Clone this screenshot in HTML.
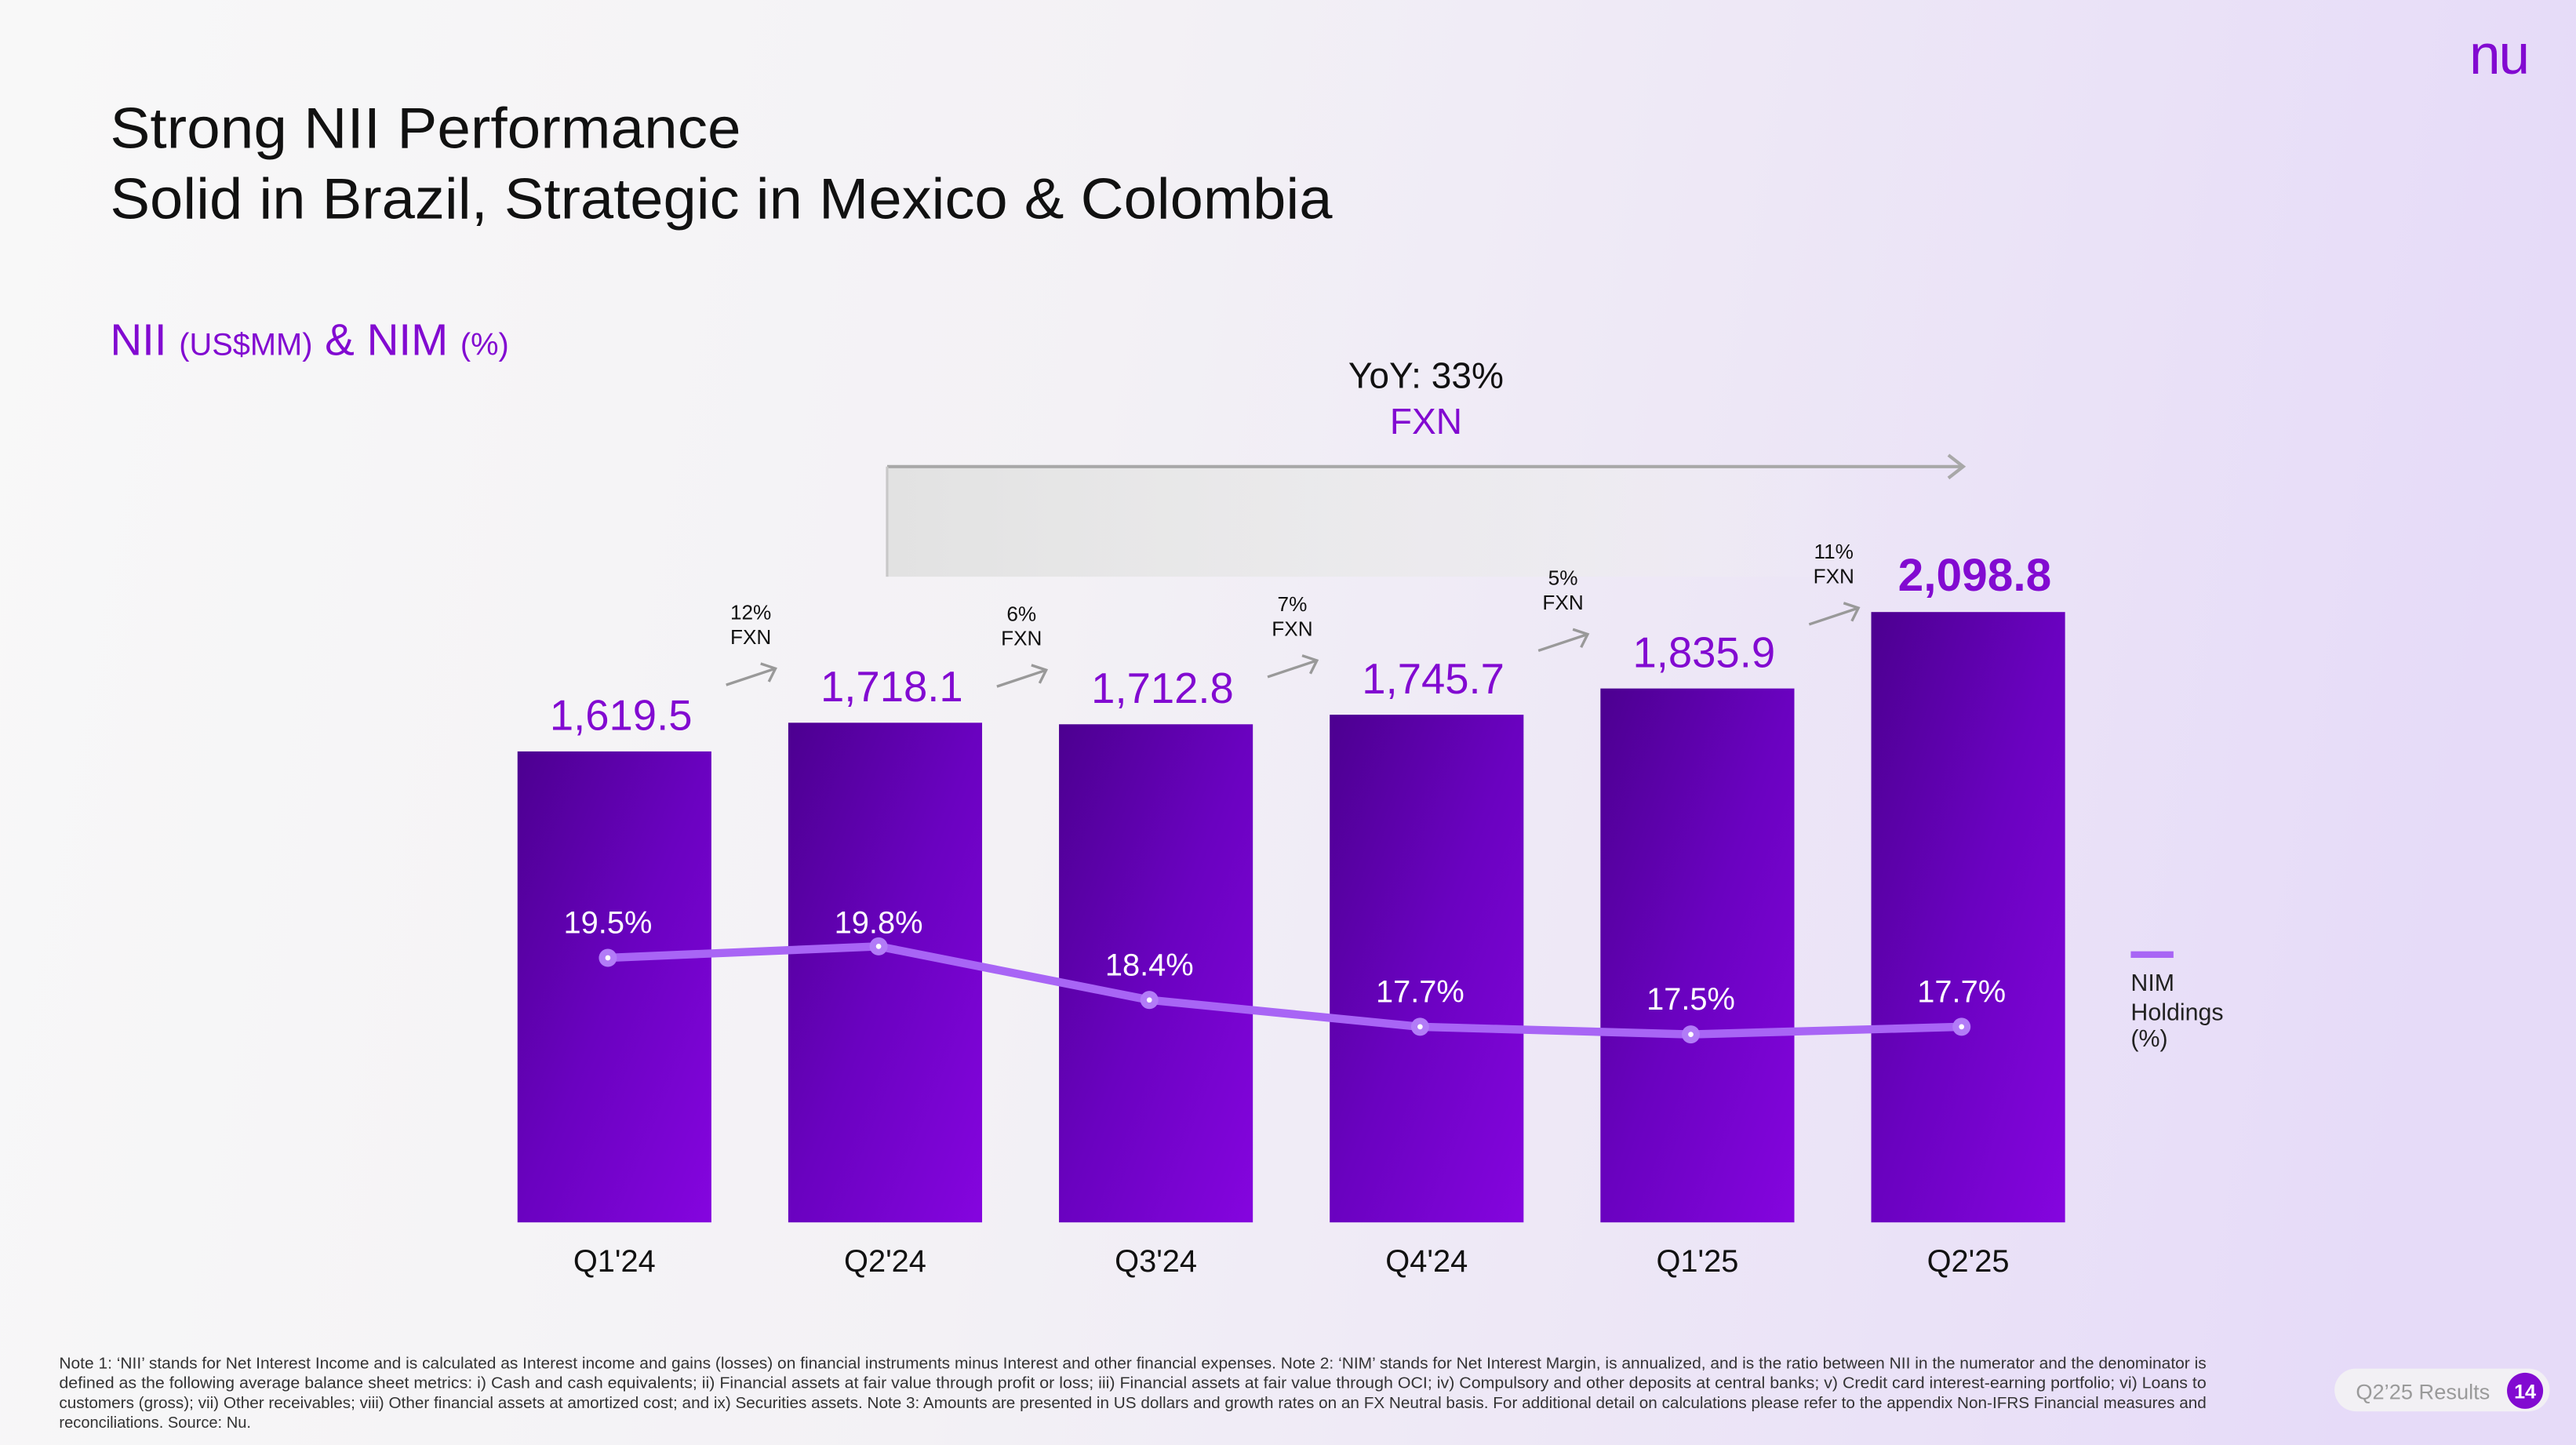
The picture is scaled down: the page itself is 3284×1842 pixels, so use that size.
<!DOCTYPE html>
<html><head><meta charset="utf-8">
<style>
html,body{margin:0;padding:0;width:3284px;height:1842px;overflow:hidden;}
svg{display:block;font-family:"Liberation Sans",sans-serif;}
</style></head>
<body>
<svg id="chart" width="3284" height="1842" viewBox="0 0 1568 879.5" xmlns="http://www.w3.org/2000/svg">
<defs>
<linearGradient id="bg" x1="0" y1="0" x2="1" y2="0.1">
<stop offset="0" stop-color="#f8f8f8"/><stop offset="0.45" stop-color="#f3f1f5"/><stop offset="1" stop-color="#e6dbf8"/>
</linearGradient>
<linearGradient id="barg" x1="0" y1="0" x2="1" y2="1">
<stop offset="0" stop-color="#4c0090"/><stop offset="0.5" stop-color="#6a02c0"/><stop offset="1" stop-color="#8505df"/>
</linearGradient>
<linearGradient id="brk" x1="0" y1="0" x2="1" y2="0">
<stop offset="0" stop-color="#e2e2e2"/><stop offset="0.7" stop-color="#ececec" stop-opacity="0.6"/><stop offset="1" stop-color="#f2f2f2" stop-opacity="0"/>
</linearGradient>
</defs>
<rect x="0" y="0" width="1568" height="880" fill="url(#bg)"/>
<text x="1521" y="45" text-anchor="middle" font-size="34" fill="#820ad1" letter-spacing="-1">nu</text>
<text x="67" y="90" font-size="35" fill="#111" textLength="384" lengthAdjust="spacingAndGlyphs">Strong NII Performance</text>
<text x="67" y="133" font-size="35" fill="#111" textLength="744" lengthAdjust="spacingAndGlyphs">Solid in Brazil, Strategic in Mexico &amp; Colombia</text>
<text x="67" y="216" font-size="27" fill="#820ad1">NII <tspan font-size="19">(US$MM)</tspan> &amp; NIM <tspan font-size="19">(%)</tspan></text>
<text x="868" y="236" text-anchor="middle" font-size="22" fill="#111">YoY: 33%</text>
<text x="868" y="264" text-anchor="middle" font-size="22" fill="#820ad1">FXN</text>
<g>
<rect x="540" y="285" width="600" height="66" fill="url(#brk)"/>
<line x1="540" y1="284" x2="1195" y2="284" stroke="#a8a8a8" stroke-width="2"/>
<line x1="540" y1="284" x2="540" y2="351" stroke="#c8c8c8" stroke-width="1.5"/>
<polyline points="1186,277 1195,284 1186,291" fill="none" stroke="#a8a8a8" stroke-width="2"/>
</g>
<g id="bars"></g>
<g id="growth"></g>
<g id="line"></g>
<g id="cats"></g>
<g>
<rect x="1297" y="579" width="26" height="4" fill="#a865f5"/>
<text x="1297" y="603" font-size="14.5" fill="#222">NIM</text>
<text x="1297" y="621" font-size="14.5" fill="#222">Holdings</text>
<text x="1297" y="637" font-size="14.5" fill="#222">(%)</text>
</g>
<g font-size="9.6" fill="#333">
<text x="36" y="833" textLength="1307" lengthAdjust="spacingAndGlyphs">Note 1: ‘NII’ stands for Net Interest Income and is calculated as Interest income and gains (losses) on financial instruments minus Interest and other financial expenses. Note 2: ‘NIM’ stands for Net Interest Margin, is annualized, and is the ratio between NII in the numerator and the denominator is</text>
<text x="36" y="845" textLength="1307" lengthAdjust="spacingAndGlyphs">defined as the following average balance sheet metrics: i) Cash and cash equivalents; ii) Financial assets at fair value through profit or loss; iii) Financial assets at fair value through OCI; iv) Compulsory and other deposits at central banks; v) Credit card interest-earning portfolio; vi) Loans to</text>
<text x="36" y="857" textLength="1307" lengthAdjust="spacingAndGlyphs">customers (gross); vii) Other receivables; viii) Other financial assets at amortized cost; and ix) Securities assets. Note 3: Amounts are presented in US dollars and growth rates on an FX Neutral basis. For additional detail on calculations please refer to the appendix Non-IFRS Financial measures and</text>
<text x="36" y="869">reconciliations. Source: Nu.</text>
</g>
<g>
<rect x="1421" y="833" width="131" height="26" rx="13" fill="#f2f0f4"/>
<text x="1434" y="851.5" font-size="13" fill="#9a9a9a">Q2’25 Results</text>
<circle cx="1537" cy="846.5" r="11" fill="#820ad1"/>
<text x="1537" y="851" text-anchor="middle" font-size="12" font-weight="bold" fill="#fff">14</text>
</g>
<script>
const categories = ["Q1'24","Q2'24","Q3'24","Q4'24","Q1'25","Q2'25"];
const niiValues = [1619.5, 1718.1, 1712.8, 1745.7, 1835.9, 2098.8];
const niiLabels = ["1,619.5","1,718.1","1,712.8","1,745.7","1,835.9","2,098.8"];
const nimValues = [19.5, 19.8, 18.4, 17.7, 17.5, 17.7];
const nimLabels = ["19.5%","19.8%","18.4%","17.7%","17.5%","17.7%"];
const growthLabels = ["12%","6%","7%","5%","11%"];

const NS = "http://www.w3.org/2000/svg";
const barW = 118, baseY = 744;
function xBand(i){ return 315 + i * 164.8; }
function yNii(v){ return baseY - v * 0.1770; }
function yNim(v){ return 583 + (19.5 - v) * 23.3; }
function mk(tag, attrs, parent){ const e = document.createElementNS(NS, tag); for (const k in attrs) e.setAttribute(k, attrs[k]); parent.appendChild(e); return e; }

const gb = document.getElementById('bars');
const gg = document.getElementById('growth');
const gl = document.getElementById('line');
const gc = document.getElementById('cats');
const last = niiValues.length - 1;
niiValues.forEach((v, i) => {
  const x = xBand(i), y = yNii(v);
  const r = mk('rect', {x: x, y: y, width: barW, height: baseY - y, fill: 'url(#barg)'}, gb);
  
  
  const t = mk('text', {x: x + barW/2 + 4, y: y - 13, 'text-anchor': 'middle', 'font-size': i === last ? 28 : 26, 'font-weight': i === last ? 'bold' : 'normal', fill: '#820ad1'}, gb);
  t.textContent = niiLabels[i];
  
  
  const c = mk('text', {x: x + barW/2, y: 774, 'text-anchor': 'middle', 'font-size': 19, fill: '#111'}, gc);
  c.textContent = categories[i];
  
  
});
growthLabels.forEach((g, i) => {
  const yNext = yNii(niiValues[i+1]);
  const yCur = yNii(niiValues[i]);
  const cx = xBand(i) + barW + 24;
  const ay = Math.max(yNext - 28, yCur - 52) + (i === growthLabels.length - 1 ? 8 : 0);
  const grp = mk('g', {}, gg);
  
  
  const t1 = mk('text', {x: cx, y: ay - 35, 'text-anchor': 'middle', 'font-size': 12.5, fill: '#111'}, grp); t1.textContent = g;
  const t2 = mk('text', {x: cx, y: ay - 20, 'text-anchor': 'middle', 'font-size': 12.5, fill: '#111'}, grp); t2.textContent = 'FXN';
  mk('line', {x1: cx - 15, y1: ay + 5, x2: cx + 15, y2: ay - 5, stroke: '#999', 'stroke-width': 1.6}, grp);
  mk('polyline', {points: (cx+6)+','+(ay-8)+' '+(cx+15)+','+(ay-5)+' '+(cx+11)+','+(ay+3), fill: 'none', stroke: '#999', 'stroke-width': 1.6}, grp);
});
const pts = nimValues.map((v, i) => [xBand(i) + barW/2 - 4, yNim(v)]);
const pl = mk('polyline', {points: pts.map(p => p.join(',')).join(' '), fill: 'none', stroke: '#a865f5', 'stroke-width': 5, 'stroke-linejoin': 'round'}, gl);


pts.forEach((p, i) => {
  const c = mk('circle', {cx: p[0], cy: p[1], r: 5.5, fill: '#b27cf7'}, gl);
  
  
  mk('circle', {cx: p[0], cy: p[1], r: 1.6, fill: '#fff'}, gl);
  const t = mk('text', {x: p[0], y: Math.max(p[1], 583) - 15, 'text-anchor': 'middle', 'font-size': 19, fill: '#fff'}, gl);
  t.textContent = nimLabels[i];
  
  
});
</script>
</svg>
</body></html>
